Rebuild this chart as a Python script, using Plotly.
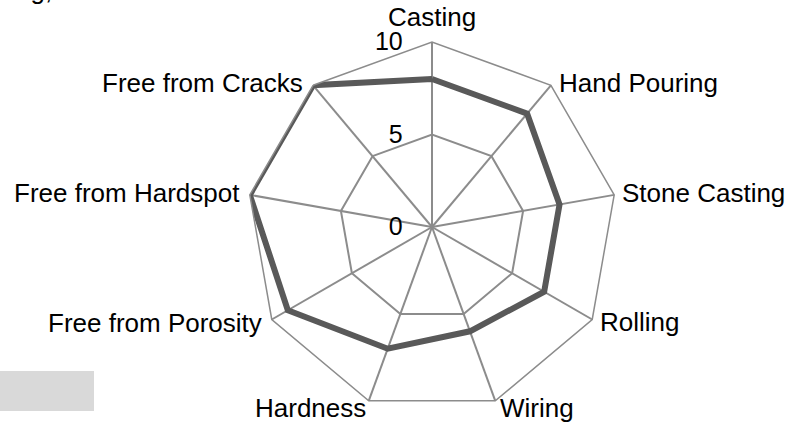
import math
import plotly.graph_objects as go

categories = ["Casting", "Hand Pouring", "Stone Casting", "Rolling", "Wiring",
              "Hardness", "Free from Porosity", "Free from Hardspot", "Free from Cracks"]
values = [8, 8, 7, 7, 6, 7, 9, 10, 10]
radial_ticks = [0, 5, 10]

fig = go.Figure()
fig.add_trace(go.Scatterpolar(
    r=values + values[:1],
    theta=categories + categories[:1],
    mode="lines",
    line=dict(color="#595959", width=6),
    showlegend=False,
    hoverinfo="skip",
))

W, H = 808, 425
cx, cy, D = 432, 227, 185
FONT = "Liberation Sans, Arial, sans-serif"

# category labels placed around the outer ring
annotations = []
n = len(categories)
for i, cat in enumerate(categories):
    a = math.radians(360.0 * i / n)
    s, c = math.sin(a), math.cos(a)
    vx, vy = cx + D * s, cy - D * c
    if abs(s) < 0.1:
        x, y, xa, ya = vx, vy - 8, "center", "bottom"
    elif c < -0.9:
        x, y = vx + (3 if s > 0 else -1), vy - 10
        xa, ya = ("left" if s > 0 else "right"), "top"
    else:
        x = vx + (6 if s > 0 else -8)
        y = vy - 2 if c > -0.2 else vy + 3
        xa, ya = ("left" if s > 0 else "right"), "middle"
    annotations.append(dict(text=cat, xref="paper", yref="paper",
                            x=x / W, y=1 - y / H, xanchor=xa, yanchor=ya,
                            showarrow=False, font=dict(size=26, family=FONT)))

annotations.append(dict(text="ng,", xref="paper", yref="paper", x=14 / W, y=1 - 7 / H,
                        xanchor="left", yanchor="bottom", showarrow=False,
                        font=dict(size=26, family=FONT)))

fig.update_layout(
    width=W, height=H,
    margin=dict(l=0, r=0, t=0, b=0),
    paper_bgcolor="white",
    plot_bgcolor="white",
    font=dict(family=FONT, size=26, color="black"),
    polar=dict(
        domain=dict(x=[(cx - D) / W, (cx + D) / W], y=[(H - cy - D) / H, (H - cy + D) / H]),
        bgcolor="white",
        gridshape="linear",
        angularaxis=dict(
            direction="clockwise", rotation=90,
            showline=True, linecolor="#8c8c8c", linewidth=1.5,
            gridcolor="#8c8c8c", gridwidth=1.5,
            ticks="", showticklabels=False,
        ),
        radialaxis=dict(
            range=[0, 10], tickvals=radial_ticks, angle=90, tickangle=90,
            side="counterclockwise",
            showline=False, gridcolor="#8c8c8c", gridwidth=1.5,
            ticks="outside", ticklen=20, tickcolor="rgba(0,0,0,0)",
            tickfont=dict(size=25),
        ),
    ),
    shapes=[dict(type="rect", xref="paper", yref="paper",
                 x0=0, x1=94 / W, y0=(H - 411) / H, y1=(H - 371) / H,
                 fillcolor="#d9d9d9", line=dict(width=0), layer="below")],
    annotations=annotations,
)

fig.write_html("out.html", config={"displayModeBar": False},
               post_script="document.body.style.margin='0';")
